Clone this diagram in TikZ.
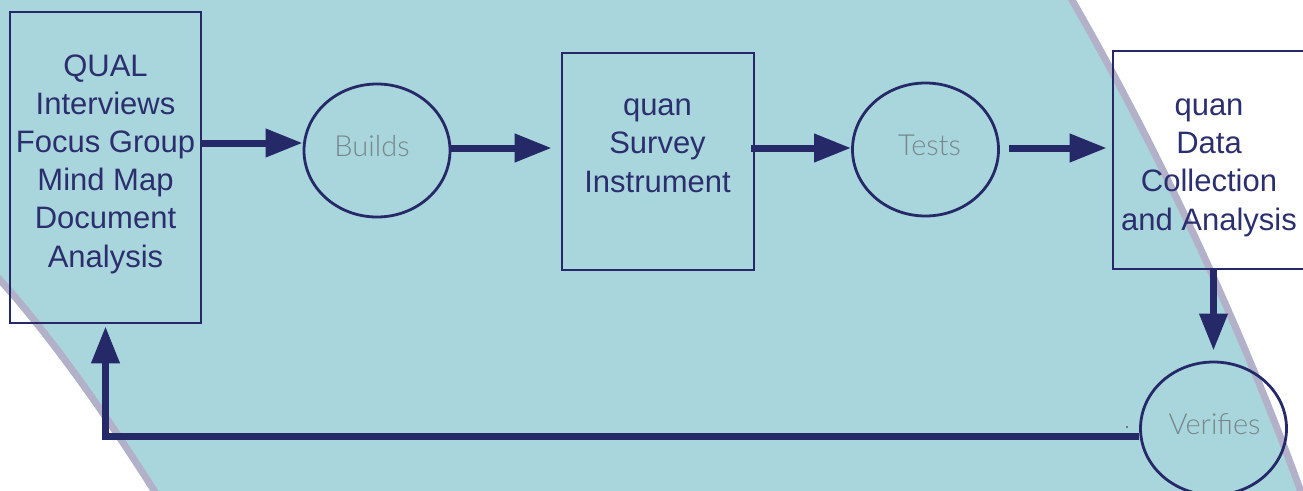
\documentclass[tikz,border=0pt]{standalone}
\usepackage{fontspec}
\setmainfont{Liberation Sans}
\newfontfamily\lightfont{Lato Light}
\usetikzlibrary{arrows.meta,shapes.geometric}
\definecolor{bgteal}{HTML}{A9D5DC}
\definecolor{lav}{HTML}{B3B1CA}
\definecolor{navy}{HTML}{262968}
\definecolor{navytext}{HTML}{2C2F6E}
\definecolor{lblgray}{HTML}{76888C}
\tikzset{
  box/.style={draw=navy, line width=2.6pt, rectangle, inner sep=0pt},
  ell/.style={draw=navy, line width=2.8pt, ellipse, inner sep=0pt, minimum width=146pt, minimum height=133pt},
  boxtxt/.style={font=\fontsize{31}{38.2}\selectfont, align=center, text=navytext, inner sep=0pt},
  lbl/.style={font=\lightfont\fontsize{29}{34}\selectfont, text=lblgray, inner sep=0pt},
  arr/.style={draw=navy, line width=7pt, -{Triangle[length=37pt,width=27pt]}},
  edgeline/.style={draw=lav, line width=7pt}
}
\begin{document}
\begin{tikzpicture}[x=1pt,y=-1pt]
\useasboundingbox (0,0) rectangle (1303,490);
% background band
\fill[bgteal] (-6,-6) -- (1069,-6) -- (1072,0) .. controls (1170,170) and (1250,350) .. (1302,495)
  -- (157,495) .. controls (110,420) and (50,335) .. (0,280) -- (-6,273) -- cycle;
\draw[edgeline] (1069,-6) -- (1072,0) .. controls (1170,170) and (1250,350) .. (1304,500);
\draw[edgeline] (-6,273) -- (0,280) .. controls (50,335) and (110,420) .. (160,500);
% boxes
\node[box, minimum width=191pt, minimum height=311pt] (qual) at (105.5,167.5) {};
\node[box, minimum width=192pt, minimum height=217pt] (survey) at (658,161.5) {};
\node[box, minimum width=192pt, minimum height=218pt] (data) at (1209,160) {};
\node[boxtxt, anchor=base] (qualtxt) at (105.5,267) {QUAL\\Interviews\\Focus Group\\Mind Map\\Document\\Analysis};
\node[boxtxt, anchor=base] (surveytxt) at (657.5,192) {quan\\Survey\\Instrument};
\node[boxtxt, anchor=base] (datatxt) at (1209,230) {quan\\Data\\Collection\\and Analysis};
% ellipses
\node[ell] (builds) at (377,150.5) {};
\node[ell] (tests) at (925.5,149.5) {};
\node[ell] (verif) at (1213.5,428.5) {};
\node[lbl, anchor=base] (buildstxt) at ([xshift=-5pt,yshift=-6pt]builds.center) {Builds};
\node[lbl, anchor=base] (teststxt) at ([xshift=4pt,yshift=-6pt]tests.center) {Tests};
\node[lbl, anchor=base] (veriftxt) at ([xshift=1pt,yshift=-6pt]verif.center) {Verifies};
\node[circle, fill=navy!70!black, inner sep=0pt, minimum size=1.8pt] (dot) at (1127,427) {};
% connectors
\coordinate (a2e) at ([xshift=-9pt]survey.west);
\coordinate (a3s) at ([xshift=-4pt]survey.east);
\coordinate (a4s) at ([xshift=9pt]tests.east);
\coordinate (a4e) at ([xshift=-5pt]data.west);
\coordinate (a5e) at ([yshift=10pt]verif.north);
\coordinate (a6e) at ([yshift=-2pt]qual.south);
\draw[arr] (qual.east |- 0,143) -- (builds.west |- 0,143);
\draw[arr] (builds.east |- 0,148) -- (a2e |- 0,148);
\draw[arr] (a3s |- 0,148) -- (tests.west |- 0,148);
\draw[arr] (a4s |- 0,148) -- (a4e |- 0,148);
\draw[arr] (verif.north |- data.south) -- (a5e);
\draw[arr] (verif.west |- 0,436) -| (a6e);
\end{tikzpicture}
\end{document}
